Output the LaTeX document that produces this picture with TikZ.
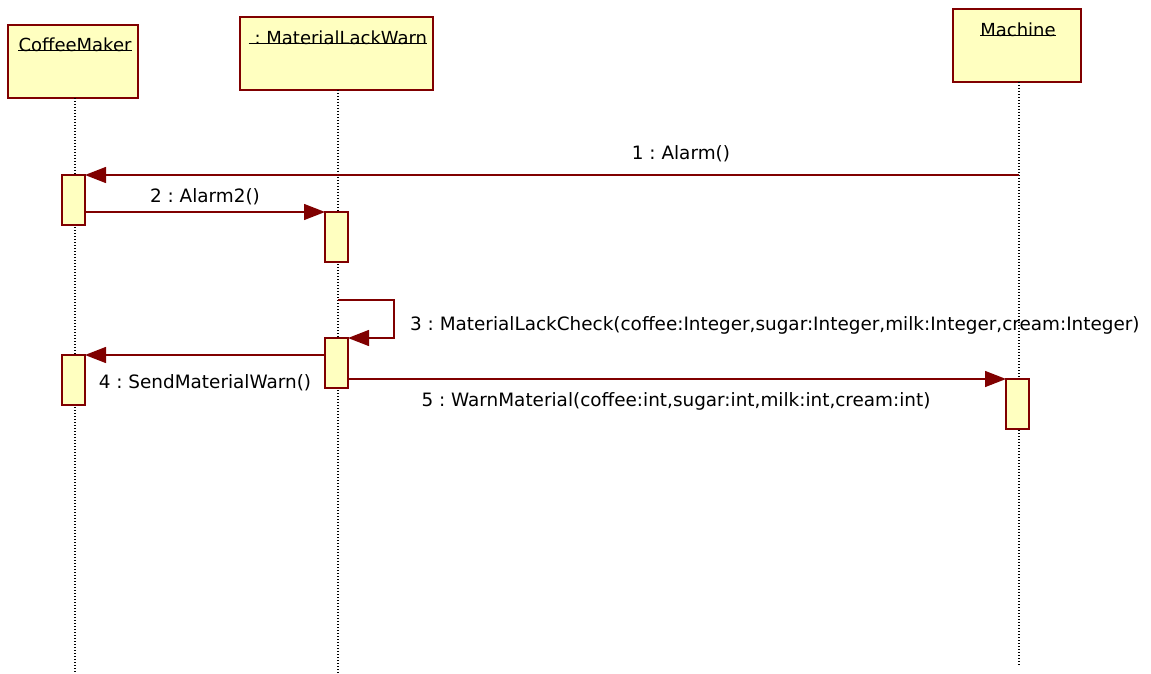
\documentclass[tikz,border=0pt]{standalone}
\usepackage{fontspec}
\setmainfont{DejaVu Sans}
\usetikzlibrary{arrows.meta}
\definecolor{umlred}{HTML}{800000}
\definecolor{umlfill}{HTML}{FFFFC0}
\tikzset{
  x=1pt, y=-1pt,
  objbox/.style={draw=umlred, fill=umlfill, line width=2pt},
  actbox/.style={draw=umlred, fill=umlfill, line width=1.6pt},
  lifeline/.style={draw=black, line width=1.3pt, dash pattern=on 1.3pt off 1.7pt},
  msg/.style={draw=umlred, line width=1.4pt, -{Triangle[length=21pt,width=16pt]}},
  lbl/.style={font=\fontsize{18.4}{20}\selectfont\frenchspacing, inner sep=0pt},
  hdr/.style={font=\fontsize{18}{20}\selectfont\frenchspacing, inner sep=0pt},
}
\begin{document}
\begin{tikzpicture}
\useasboundingbox (0,0) rectangle (1151,674);
% object boxes
\draw[objbox] (8,25) rectangle (138,98);
\draw[objbox] (240,17) rectangle (433,90);
\draw[objbox] (953,9) rectangle (1081,82);
\node[hdr, anchor=base] (cmt) at (75,52) {CoffeeMaker};
\node[hdr, anchor=base] (mlt) at (338,45) {\ : MaterialLackWarn};
\node[hdr, anchor=base] (mat) at (1018,37) {Machine};
\draw[line width=1pt] ([yshift=1.5pt]cmt.base west) -- ([yshift=1.5pt]cmt.base east);
\draw[line width=1pt] ([yshift=1.5pt]mlt.base west) -- ([yshift=1.5pt]mlt.base east);
\draw[line width=1pt] ([yshift=1.5pt]mat.base west) -- ([yshift=1.5pt]mat.base east);
% lifelines
\coordinate (cmtop) at (75,98);  \coordinate (cmbot) at (75,674);
\coordinate (mltop) at (338,90); \coordinate (mlbot) at (338,674);
\coordinate (matop) at (1019,82); \coordinate (mabot) at (1019,665);
\draw[lifeline] (cmtop) -- (cmbot);
\draw[lifeline] (mltop) -- (mlbot);
\draw[lifeline] (matop) -- (mabot);
% activations
\draw[actbox] (62,175) rectangle (85,225);
\draw[actbox] (325,212) rectangle (348,262);
\draw[actbox] (325,338) rectangle (348,388);
\draw[actbox] (62,355) rectangle (85,405);
\draw[actbox] (1006,379) rectangle (1029,429);
\coordinate (a1) at (85,175);
\coordinate (m1) at (1019,175);
\coordinate (a2s) at (85,212);
\coordinate (a2e) at (325,212);
\coordinate (s3a) at (338,300);
\coordinate (s3b) at (394,300);
\coordinate (s3c) at (394,338);
\coordinate (s3d) at (348,338);
\coordinate (a4s) at (325,355);
\coordinate (a4e) at (85,355);
\coordinate (a5s) at (348,379);
\coordinate (a5e) at (1006,379);
% messages
\draw[msg] (m1) -- (a1);
\draw[msg] (a2s) -- (a2e);
\draw[msg] (s3a) -- (s3b) -- (s3c) -- (s3d);
\draw[msg] (a4s) -- (a4e);
\draw[msg] (a5s) -- (a5e);
% labels
\node[lbl, anchor=base] (l1) at (681,160) {1 : Alarm()};
\node[lbl, anchor=base] (l2) at (205,202) {2 : Alarm2()};
\node[lbl, anchor=base west] (l3) at (410,330) {3 : MaterialLackCheck(coffee:Integer,sugar:Integer,milk:Integer,cream:Integer)};
\node[lbl, anchor=base] (l4) at (205,388) {4 : SendMaterialWarn()};
\node[lbl, anchor=base] (l5) at (676,406) {5 : WarnMaterial(coffee:int,sugar:int,milk:int,cream:int)};
\end{tikzpicture}
\end{document}
